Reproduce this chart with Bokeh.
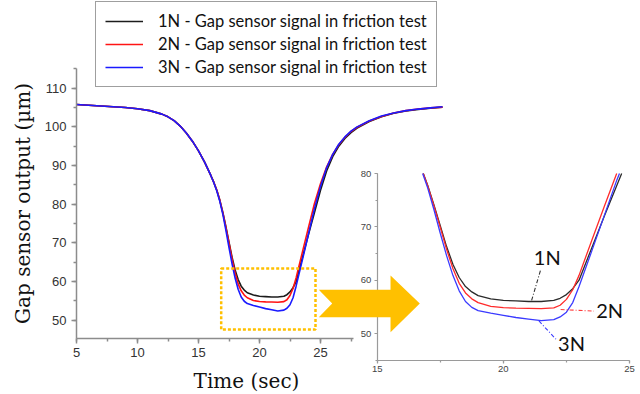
import numpy as np
from bokeh.plotting import figure
from bokeh.models import (Range1d, LinearAxis, SingleIntervalTicker, Legend,
                          LegendItem, Label)
from bokeh.core.properties import value
from bokeh.embed import file_html
from bokeh.resources import INLINE

# ---------------- data ----------------
time_s = [5, 6, 7, 8, 9, 10, 11, 12, 12.5, 13, 13.5, 14, 14.5, 15, 15.5, 16,
          16.25, 16.5, 16.75, 17, 17.25, 17.5, 17.75, 18, 18.25, 18.5, 18.75,
          19, 19.5, 20, 20.5, 21, 21.5, 22, 22.25, 22.5, 22.75, 23, 23.5, 24,
          24.5, 25, 25.5, 26, 26.5, 27, 27.5, 28, 29, 30, 31, 32, 33, 34, 35]

gap_1n = [105.8, 105.6, 105.4, 105.2, 105.0, 104.7, 104.2, 103.3, 102.6, 101.6,
          100.2, 98.4, 96.3, 93.8, 90.9, 87.5,
          85.7, 83.6, 81.0, 77.8, 74.1, 70.2, 66.3, 63.0, 60.5, 58.8, 57.8,
          57.1, 56.5, 56.2, 56.1, 56.0, 56.0, 56.2, 56.6, 57.3, 58.4, 60.0,
          66.0, 72.0, 77.8, 83.6, 88.6, 92.3, 95.0, 97.0, 98.5, 99.7, 101.4,
          102.6, 103.5, 104.1, 104.5, 104.8, 105.1]

gap_2n = [105.8, 105.6, 105.4, 105.2, 105.0, 104.7, 104.2, 103.3, 102.6, 101.6,
          100.2, 98.4, 96.3, 93.8, 90.9, 87.5,
          85.7, 83.6, 81.0, 77.7, 73.9, 69.9, 65.8, 62.2, 59.4, 57.6, 56.5,
          55.8, 55.1, 54.85, 54.75, 54.7, 54.65, 54.8, 55.3, 56.4, 58.2, 60.9,
          67.4, 73.8, 80.1, 85.3, 89.6, 92.9, 95.4, 97.3, 98.8, 99.9, 101.5,
          102.7, 103.6, 104.2, 104.6, 104.9, 105.1]

gap_3n = [105.8, 105.6, 105.4, 105.2, 105.0, 104.7, 104.2, 103.3, 102.6, 101.6,
          100.2, 98.4, 96.3, 93.8, 90.9, 87.5,
          85.6, 83.4, 80.7, 77.3, 73.2, 68.8, 64.6, 60.9, 58.0, 56.0, 54.9,
          54.3, 53.8, 53.4, 53.0, 52.7, 52.4, 52.6, 53.1, 54.0, 55.8, 58.8,
          65.4, 72.1, 78.8, 84.6, 89.4, 92.9, 95.5, 97.4, 98.9, 100.0, 101.6,
          102.8, 103.6, 104.2, 104.6, 104.9, 105.2]

series = [gap_1n, gap_2n, gap_3n]
series_labels = ["1N - Gap sensor signal in friction test",
                 "2N - Gap sensor signal in friction test",
                 "3N - Gap sensor signal in friction test"]
series_colors = ["#1c1c1c", "#ff1414", "#1a1aff"]
inset_colors = ["#2a2a2a", "#ff2a2a", "#3a3aff"]

note_text = ["1N", "2N", "3N"]
note_x = [21.74, 24.21, 22.70]
note_y = [64.3, 54.5, 48.3]
lead_x0 = [21.12, 22.27, 21.41]
lead_y0 = [56.2, 54.5, 52.35]
lead_x1 = [21.47, 23.59, 22.13]
lead_y1 = [61.8, 54.2, 48.7]
lead_colors = ["#333333", "#ff3a3a", "#3a3aff"]

# zoom window (main data coords) and the big arrow outline (main data coords)
zoom_box = dict(left=16.86, right=24.59, bottom=47.6, top=63.4)
arrow_x = [24.86, 30.74, 30.74, 33.14, 30.74, 30.74, 24.86, 25.96]
arrow_y = [57.87, 57.87, 61.56, 54.32, 46.90, 50.78, 50.78, 54.32]

W, H = 640, 394


def x_range_from(v0, p0, v1, p1, total):
    s = (p1 - p0) / (v1 - v0)
    start = v0 - p0 / s
    return Range1d(start, start + total / s)


def y_range_from(v0, p0, v1, p1, total):
    s = (p1 - p0) / (v0 - v1)
    top = v0 + p0 / s
    return Range1d(top - total / s, top)


p = figure(width=W, height=H, output_backend="svg", toolbar_location=None,
           x_axis_type=None, y_axis_type=None,
           x_range=x_range_from(5, 76, 25, 320, W),
           y_range=y_range_from(110, 87.7, 50, 319.7, H),
           min_border=0)
p.extra_x_ranges = {"ix": x_range_from(15, 376.7, 25, 629, W)}
p.extra_y_ranges = {"iy": y_range_from(80, 173, 50, 333, H)}
p.outline_line_color = None
p.background_fill_color = "white"
p.border_fill_color = "white"


def style_axis(ax, color, lw, tick_out, minor_out, font_size, label_color,
               standoff):
    ax.axis_line_color = color
    ax.axis_line_width = lw
    ax.major_tick_line_color = color
    ax.major_tick_line_width = lw
    ax.minor_tick_line_color = color
    ax.minor_tick_line_width = lw
    ax.major_tick_in = 0
    ax.major_tick_out = tick_out
    ax.minor_tick_in = 0
    ax.minor_tick_out = minor_out
    ax.major_label_text_font = "Liberation Sans"
    ax.major_label_text_font_size = font_size
    ax.major_label_text_color = label_color
    ax.major_label_standoff = standoff


# ---- main axes
main_y_axis = LinearAxis(fixed_location=5, bounds=(45.3, 115),
                         ticker=SingleIntervalTicker(interval=10, num_minor_ticks=2),
                         axis_label="Gap sensor output (µm)")
style_axis(main_y_axis, "#8c8c8c", 1.5, 5, 3, "13px", "#333333", 5)
main_y_axis.axis_label_text_font = "DejaVu Serif"
main_y_axis.axis_label_text_font_size = "20px"
main_y_axis.axis_label_text_font_style = "normal"
main_y_axis.axis_label_text_color = "#111111"
main_y_axis.axis_label_standoff = 7
p.add_layout(main_y_axis, "left")

main_x_axis = LinearAxis(fixed_location=45.27, bounds=(5, 27.7),
                         ticker=SingleIntervalTicker(interval=5, num_minor_ticks=2))
style_axis(main_x_axis, "#8c8c8c", 1.5, 5, 3, "13px", "#333333", 5)
p.add_layout(main_x_axis, "below")

p.add_layout(Label(x=246, y=H - 380, x_units="screen", y_units="screen",
                   text="Time (sec)", text_align="center",
                   text_baseline="middle", text_font="DejaVu Serif",
                   text_font_size="20px", text_color="#111111"))

# ---- inset axes
in_y_axis = LinearAxis(x_range_name="ix", y_range_name="iy", fixed_location=15,
                       bounds=(45, 80),
                       ticker=SingleIntervalTicker(interval=10, num_minor_ticks=2))
style_axis(in_y_axis, "#9a9a9a", 1.2, 3, 2, "9.5px", "#444444", 3)
p.add_layout(in_y_axis, "left")

in_x_axis = LinearAxis(x_range_name="ix", y_range_name="iy", fixed_location=45,
                       bounds=(15, 25),
                       ticker=SingleIntervalTicker(interval=5, num_minor_ticks=2))
style_axis(in_x_axis, "#9a9a9a", 1.2, 3, 2, "9.5px", "#444444", 3)
p.add_layout(in_x_axis, "below")


# ---- main curves
main_renderers = []
for vals, col in zip(series, series_colors):
    r = p.line(time_s, vals, line_color=col, line_width=1.6)
    main_renderers.append(r)


# ---- inset curves (same series, cropped to the inset window)
def crop(t, v, ymax, xmin, xmax):
    xs, ys = [], []
    for i in range(len(t)):
        if i > 0 and (v[i - 1] - ymax) * (v[i] - ymax) < 0:
            f = (ymax - v[i - 1]) / (v[i] - v[i - 1])
            xs.append(t[i - 1] + f * (t[i] - t[i - 1]))
            ys.append(ymax)
        if v[i] <= ymax and xmin <= t[i] <= xmax:
            xs.append(t[i])
            ys.append(v[i])
    return xs, ys


for vals, col in zip(series, inset_colors):
    xs, ys = crop(time_s, vals, 80, 15, 25)
    p.line(xs, ys, line_color=col, line_width=1.3,
           x_range_name="ix", y_range_name="iy")

# leader lines and labels in the inset
for i in range(3):
    p.segment(x0=[lead_x0[i]], y0=[lead_y0[i]], x1=[lead_x1[i]], y1=[lead_y1[i]],
              line_color=lead_colors[i], line_width=1.1, line_dash="4 2 1 2",
              x_range_name="ix", y_range_name="iy")
p.text(x=note_x, y=note_y, text=note_text, x_range_name="ix", y_range_name="iy",
       text_align="center", text_baseline="middle", text_font=value("Lato"),
       text_font_size="20px", text_color="#111111")

# ---- zoom window and arrow
p.quad(left=[zoom_box["left"]], right=[zoom_box["right"]],
       bottom=[zoom_box["bottom"]], top=[zoom_box["top"]],
       fill_color=None, line_color="#FFC000", line_width=2.5, line_dash="3 2")
arrow = p.patch(arrow_x, arrow_y, fill_color="#FFC000", line_color=None)
arrow.level = "overlay"

# ---- legend
legend = Legend(items=[LegendItem(label=lbl, renderers=[r])
                       for lbl, r in zip(series_labels, main_renderers)],
                location=(95, H - 87), margin=0, padding=9, spacing=3,
                glyph_height=20, glyph_width=38, label_height=20,
                label_standoff=15, label_text_font="Lato",
                label_text_font_size="16.5px", label_text_color="#111111",
                border_line_color="#404040", border_line_width=1,
                background_fill_color="white", background_fill_alpha=1)
p.add_layout(legend)

open("out.html", "w").write(file_html(p, INLINE))
